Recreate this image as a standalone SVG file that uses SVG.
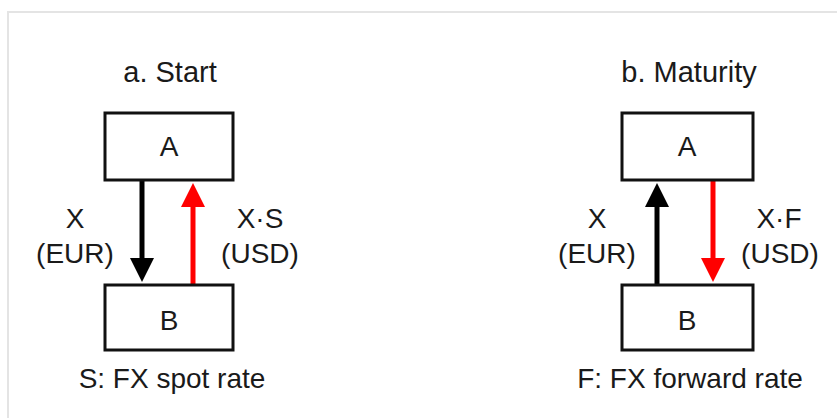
<svg xmlns="http://www.w3.org/2000/svg" width="837" height="418" viewBox="0 0 837 418">
<defs>
<style>
text{font-family:"Liberation Sans",Arial,sans-serif;fill:#1a1a1a;text-anchor:middle}
.t{font-size:29px}
.l{font-size:28px}
.box{fill:#fff;stroke:#111;stroke-width:3}
.k{stroke:#000;stroke-width:5;fill:none}
.r{stroke:#f00;stroke-width:5;fill:none}
</style>
<marker id="hk" markerUnits="userSpaceOnUse" markerWidth="24" markerHeight="24" viewBox="0 0 24 24" refX="12" refY="12" orient="auto"><path d="M0,0 L24,12 L0,24 z" fill="#000"/></marker>
<marker id="hr" markerUnits="userSpaceOnUse" markerWidth="24" markerHeight="24" viewBox="0 0 24 24" refX="12" refY="12" orient="auto"><path d="M0,0 L24,12 L0,24 z" fill="#f00"/></marker>
</defs>
<rect width="837" height="418" fill="#fff"/>
<rect x="8" y="12" width="840" height="420" fill="none" stroke="#e4e4e4" stroke-width="2"/>
<text class="t" x="170" y="82">a. Start</text>
<text class="t" x="689" y="82">b. Maturity</text>
<g id="conn">
<line class="k" x1="142" y1="180" x2="142" y2="270" marker-end="url(#hk)"/>
<line class="r" x1="193" y1="285" x2="193" y2="195" marker-end="url(#hr)"/>
<line class="k" x1="657" y1="285" x2="657" y2="195" marker-end="url(#hk)"/>
<line class="r" x1="713" y1="181" x2="713" y2="270" marker-end="url(#hr)"/>
<text class="l" x="75" y="228">X</text>
<text class="l" x="75" y="263">(EUR)</text>
<text class="l" x="260" y="228">X·S</text>
<text class="l" x="260" y="263">(USD)</text>
<text class="l" x="597" y="228">X</text>
<text class="l" x="597" y="263">(EUR)</text>
<text class="l" x="779" y="228">X·F</text>
<text class="l" x="780" y="263">(USD)</text>
</g>
<g id="nodeA1"><rect class="box" x="105" y="113" width="128" height="67"/><text class="l" x="169" y="156">A</text></g>
<g id="nodeB1"><rect class="box" x="105" y="285" width="128" height="65"/><text class="l" x="169" y="330">B</text></g>
<g id="nodeA2"><rect class="box" x="622" y="113" width="131" height="67"/><text class="l" x="687" y="156">A</text></g>
<g id="nodeB2"><rect class="box" x="622" y="285" width="131" height="65"/><text class="l" x="687" y="330">B</text></g>
<text class="l" x="172" y="388">S: FX spot rate</text>
<text class="l" x="690" y="388">F: FX forward rate</text>
</svg>
